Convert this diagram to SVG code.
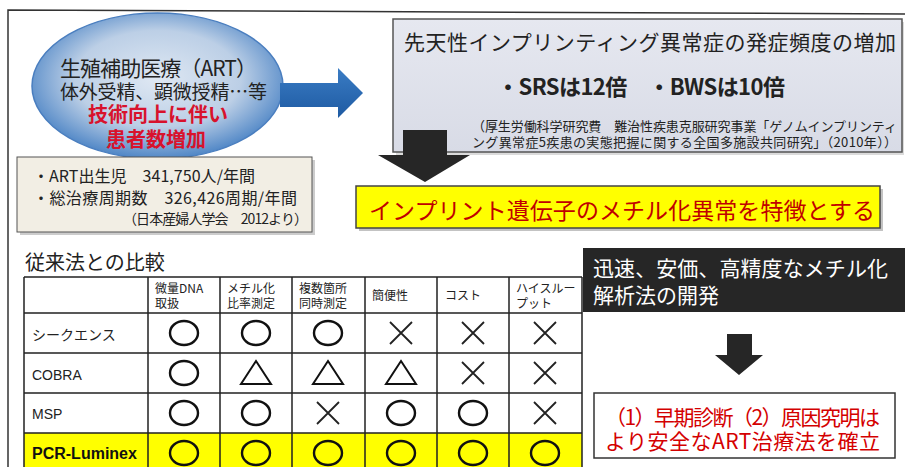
<svg xmlns="http://www.w3.org/2000/svg" width="905" height="467" viewBox="0 0 905 467">
<defs>
<radialGradient id="ellG" cx="50%" cy="45%" r="55%">
<stop offset="0" stop-color="#dfe8f3"/>
<stop offset="0.6" stop-color="#bccfe6"/>
<stop offset="1" stop-color="#4f86c6"/>
</radialGradient>
<linearGradient id="blueArrow" x1="0" y1="0" x2="0" y2="1">
<stop offset="0" stop-color="#3a7cc4"/>
<stop offset="1" stop-color="#1e5aa2"/>
</linearGradient>
<linearGradient id="boxG" x1="0" y1="0" x2="0" y2="1">
<stop offset="0" stop-color="#e6e8f0"/>
<stop offset="1" stop-color="#d8dbe6"/>
</linearGradient>
</defs>
<style>
text{font-family:"Noto Sans CJK JP","Noto Sans",sans-serif;}
.lat{font-family:"Liberation Sans",Arial,"Noto Sans CJK JP",sans-serif;}
.grid{stroke:#222;stroke-width:1.5;fill:none;}
.o{fill:none;stroke:#111;stroke-width:2.4;}
.x{stroke:#222;stroke-width:1.8;fill:none;}
.t{fill:none;stroke:#111;stroke-width:2;stroke-linejoin:miter;}
.hd{font-size:12px;fill:#222;}
.rl{font-size:14px;fill:#222;}
.blk{fill:#262626;}
</style>

<path d="M8,467 V10 L905,14" fill="none" stroke="#333" stroke-width="1.5"/>

<g id="top-box">
<rect x="396" y="22" width="508" height="133" fill="#999" opacity="0.35"/>
<rect x="393" y="19" width="509" height="133" fill="url(#boxG)" stroke="#555" stroke-width="1.5"/>
<text x="404" y="50" font-size="21" fill="#222" textLength="492">先天性インプリンティング異常症の発症頻度の増加</text>
<text x="497" y="95" font-size="22" font-weight="bold" fill="#222" textLength="288">・SRSは12倍　・BWSは10倍</text>
<text x="472" y="131" font-size="13" fill="#222" textLength="425">（厚生労働科学研究費　難治性疾患克服研究事業「ゲノムインプリンティ</text>
<text x="472" y="147" font-size="13" fill="#222" textLength="425">ング異常症5疾患の実態把握に関する全国多施設共同研究」（2010年））</text>
</g>

<g id="art-ellipse">
<ellipse cx="157.5" cy="86" rx="125.5" ry="73" fill="url(#ellG)" stroke="#4a7ebf" stroke-width="1.5"/>
<text x="60" y="76" font-size="21" fill="#222" textLength="197">生殖補助医療（ART）</text>
<text x="60" y="99" font-size="19" fill="#222" textLength="207">体外受精、顕微授精…等</text>
<text x="158" y="122" font-size="20" font-weight="bold" fill="#d8122c" text-anchor="middle">技術向上に伴い</text>
<text x="156" y="147" font-size="20" font-weight="bold" fill="#d8122c" text-anchor="middle">患者数増加</text>
</g>

<g id="stats-box">
<rect x="20" y="160" width="295" height="75" fill="#999" opacity="0.5"/>
<rect x="17" y="157" width="295" height="75" fill="#f2eee4" stroke="#555" stroke-width="1"/>
<text x="33" y="182" font-size="16" fill="#222" textLength="222">・ART出生児　341,750人/年間</text>
<text x="33" y="204" font-size="16" fill="#222" textLength="264">・総治療周期数　326,426周期/年間</text>
<text x="123" y="224" font-size="14" fill="#222" textLength="185">（日本産婦人学会　2012より）</text>
</g>

<g id="banner">
<rect x="359" y="189" width="524" height="42" fill="#888" opacity="0.5"/>
<rect x="356" y="186" width="524" height="42" fill="#ffff00" stroke="#444" stroke-width="1.5"/>
<text x="369" y="219" font-size="23" fill="#c00000" textLength="506">インプリント遺伝子のメチル化異常を特徴とする</text>
</g>

<g id="connectors">
<path d="M280,83 H338 V68 L363,93 L338,118 V107 H280 Z" fill="url(#blueArrow)"/>
<path class="blk" d="M403,130 H447 V155 H470 L425,182 L378,155 H403 Z"/>
<path class="blk" d="M727,334 H752 V355 H763 L739,375 L715,355 H727 Z"/>
</g>

<g id="comparison-table">
<text x="25" y="270" font-size="20" fill="#222">従来法との比較</text>
<rect x="24" y="433" width="558" height="40" fill="#ffff00"/>
<path class="grid" d="M24,277 H582 M24,313 H582 M24,353 H582 M24,393 H582 M24,433 H582 M24,277 V467 M148,277 V467 M220,277 V467 M292,277 V467 M365,277 V467 M437,277 V467 M509,277 V467 M582,277 V467"/>
<text class="hd" x="155" y="293">微量DNA</text><text class="hd" x="155" y="308">取扱</text>
<text class="hd" x="227" y="293">メチル化</text><text class="hd" x="227" y="308">比率測定</text>
<text class="hd" x="299" y="293">複数箇所</text><text class="hd" x="299" y="308">同時測定</text>
<text class="hd" x="372" y="300">簡便性</text>
<text class="hd" x="445" y="300">コスト</text>
<text class="hd" x="516" y="293">ハイスルー</text><text class="hd" x="516" y="308">プット</text>
<text class="rl" x="32" y="340" font-size="13">シークエンス</text>
<text class="rl lat" x="32" y="380">COBRA</text>
<text class="rl lat" x="32" y="419">MSP</text>
<text class="lat" x="32" y="459" font-size="16" font-weight="bold" fill="#111">PCR-Luminex</text>
<!-- row 1 -->
<ellipse class="o" cx="184" cy="333" rx="14" ry="12"/>
<ellipse class="o" cx="256" cy="333" rx="14" ry="12"/>
<ellipse class="o" cx="328" cy="333" rx="14" ry="12"/>
<path class="x" d="M390,322 L412,344 M412,322 L390,344"/>
<path class="x" d="M462,322 L484,344 M484,322 L462,344"/>
<path class="x" d="M534,322 L556,344 M556,322 L534,344"/>
<!-- row 2 -->
<ellipse class="o" cx="184" cy="373" rx="14" ry="12"/>
<path class="t" d="M256,361 L271,384 H241 Z"/>
<path class="t" d="M328,361 L343,384 H313 Z"/>
<path class="t" d="M401,361 L416,384 H386 Z"/>
<path class="x" d="M462,362 L484,384 M484,362 L462,384"/>
<path class="x" d="M534,362 L556,384 M556,362 L534,384"/>
<!-- row 3 -->
<ellipse class="o" cx="184" cy="413" rx="14" ry="12"/>
<ellipse class="o" cx="256" cy="413" rx="14" ry="12"/>
<path class="x" d="M317,402 L339,424 M339,402 L317,424"/>
<ellipse class="o" cx="401" cy="413" rx="14" ry="12"/>
<ellipse class="o" cx="473" cy="413" rx="14" ry="12"/>
<path class="x" d="M534,402 L556,424 M556,402 L534,424"/>
<!-- row 4 -->
<ellipse class="o" cx="184" cy="453" rx="14" ry="12"/>
<ellipse class="o" cx="256" cy="453" rx="14" ry="12"/>
<ellipse class="o" cx="328" cy="453" rx="14" ry="12"/>
<ellipse class="o" cx="401" cy="453" rx="14" ry="12"/>
<ellipse class="o" cx="473" cy="453" rx="14" ry="12"/>
<ellipse class="o" cx="545" cy="453" rx="14" ry="12"/>
</g>

<g id="dev-box">
<rect x="583" y="248" width="322" height="64" fill="#262626"/>
<text x="593" y="276" font-size="21" fill="#fff" textLength="295">迅速、安価、高精度なメチル化</text>
<text x="593" y="303" font-size="21" fill="#fff">解析法の開発</text>
</g>

<g id="goal-box">
<rect x="594" y="393" width="301" height="65" fill="#fff" stroke="#333" stroke-width="1.5"/>
<text x="605" y="425" font-size="21" fill="#d40000" textLength="275">（1）早期診断（2）原因究明は</text>
<text x="605" y="449" font-size="21" fill="#d40000" textLength="275">より安全なART治療法を確立</text>
</g>
</svg>
